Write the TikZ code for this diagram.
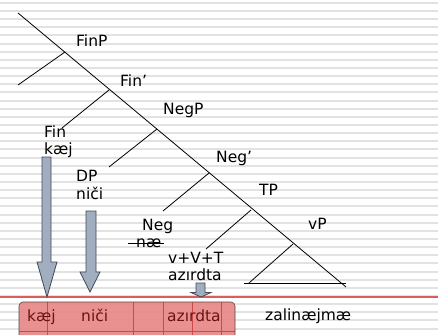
\documentclass[tikz,border=0pt]{standalone}
\usepackage{fontspec}
\setmainfont{DejaVu Sans}
\usetikzlibrary{calc}
\definecolor{stripe}{RGB}{226,226,226}
\definecolor{arrowfill}{RGB}{160,174,191}
\definecolor{arrowline}{RGB}{66,74,86}
\definecolor{boxfill}{RGB}{232,136,136}
\definecolor{boxgrid}{RGB}{205,72,72}
\definecolor{boxedge}{RGB}{90,70,70}
\definecolor{boxtext}{RGB}{105,20,20}
\definecolor{rulecol}{RGB}{214,96,96}
\begin{document}
\begin{tikzpicture}[x=1pt,y=-1pt,
  lbl/.style={font=\fontsize{15.5}{17}\selectfont, inner sep=0pt, anchor=base west},
  boxword/.style={lbl, text=boxtext},
  branch/.style={line width=0.8pt, draw=black},
  blockarrow/.style={fill=arrowfill, draw=arrowline, line width=0.8pt, line join=miter}]
\useasboundingbox (0,0) rectangle (438,334);
% striped backdrop
\fill[white] (0,0) rectangle (438,334);
\foreach \k in {0,...,40}
  \fill[stripe] (0,{1.8+8.146*\k}) rectangle (438,{3.8+8.146*\k});

% tree skeleton
\coordinate (root) at (18,13);
\coordinate (tail) at (346,287);
\coordinate (b1) at (65,52);   \coordinate (l1) at (18,85);
\coordinate (b2) at (109,90);  \coordinate (l2) at (62,128);
\coordinate (b3) at (157,129); \coordinate (l3) at (109,167);
\coordinate (b4) at (209,173); \coordinate (l4) at (163,211);
\coordinate (b5) at (251,210); \coordinate (l5) at (206,249);
\coordinate (b6) at (293,244); \coordinate (l6) at (249,283);
\coordinate (baseL) at (244,283); \coordinate (baseR) at (346,283);
\draw[branch] (root) -- (tail);
\foreach \i in {1,...,6} \draw[branch] (b\i) -- (l\i);
\draw[branch] (baseL) -- (baseR);

% category labels
\node[lbl] (finp) at (76,46.5) {FinP};
\node[lbl] (finbar) at (120,86.5) {Fin’};
\node[lbl] (negp) at (163,114.5) {NegP};
\node[lbl] (negbar) at (216,162.5) {Neg’};
\node[lbl] (tp) at (259,195) {TP};
\node[lbl] (vp) at (308,229) {vP};
\node[lbl] (fin) at (44,137.5) {Fin};
\node[lbl] (fink) at (44,154) {kæj};
\node[lbl] (dp) at (76,181.5) {DP};
\node[lbl] (dpn) at (76,199) {niči};
\node[lbl] (neg) at (142,230) {Neg};
\node[lbl] (nae) at (136,247) {næ};
\node[lbl] (vvt) at (168,263) {v+V+T};
\node[lbl] (verb) at (168,280.5) {azırdta};
\draw[line width=0.8pt] ([xshift=-8pt,yshift=3.6pt]nae.base west) -- ([xshift=3pt,yshift=3.6pt]nae.base east);

% baseline rule
\draw[rulecol, line width=1.2pt] (0,297) -- (438,297);

% spell-out box
\begin{scope}
  \clip (0,0) rectangle (438,334);
  \fill[boxfill, fill opacity=0.92, rounded corners=4pt] (19,302) rectangle (235,350);
  \foreach \gx in {47,133,163,192,221}
    \draw[boxgrid, line width=0.6pt] (\gx,302) -- (\gx,350);
  \draw[boxgrid, line width=0.6pt] (19,331) -- (235,331);
  \draw[boxedge, line width=0.6pt, rounded corners=4pt] (19,350) -- (19,302) -- (235,302) -- (235,350);
\end{scope}
\node[boxword] (sk) at (27,321) {kæj};
\node[boxword] (sn) at (81,321) {niči};
\node[boxword] (sa) at (167,321.5) {azırdta};
\node[lbl] (surface) at (265,320) {zalinæjmæ};

% movement arrows
\draw[blockarrow] (42,157) -- (51,157) -- (51,262) -- (57,262) -- (47,297)
  -- (37,262) -- (42,262) -- cycle;
\draw[blockarrow] (86,211) -- (96,211) -- (96,272) -- (100,272) -- (90,292)
  -- (80,272) -- (86,272) -- cycle;
\draw[blockarrow] (196,283) -- (205,283) -- (205,292.5) -- (211,292.5) -- (201,297)
  -- (191,292.5) -- (196,292.5) -- cycle;
\end{tikzpicture}
\end{document}
